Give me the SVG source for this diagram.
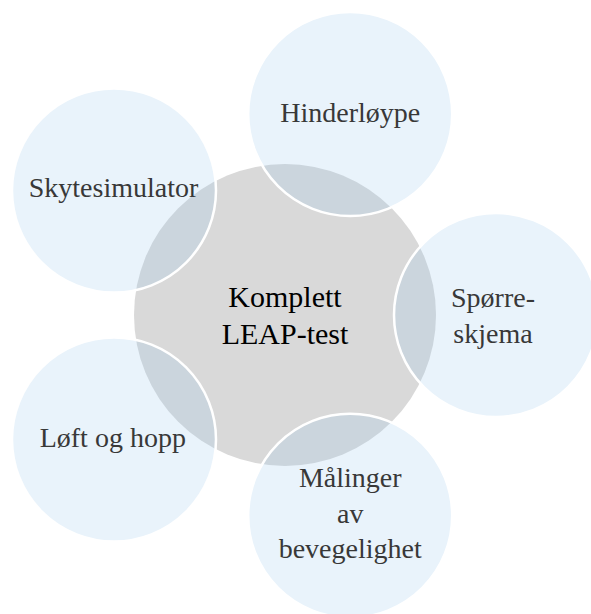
<svg xmlns="http://www.w3.org/2000/svg" width="591" height="614" viewBox="0 0 591 614">
<style>
.hub{fill:#D9D9D9;}
.sat{fill:#9DC8EC;fill-opacity:0.22;stroke:#FFFFFF;stroke-width:2.5;}
.t{font-family:"Liberation Serif",Tinos,"Nimbus Roman","Nimbus Roman No9 L","Times New Roman",FreeSerif,"DejaVu Serif",serif;font-size:28px;fill:#383838;text-anchor:middle;}
.c{font-family:"Liberation Serif",Tinos,"Nimbus Roman","Nimbus Roman No9 L","Times New Roman",FreeSerif,"DejaVu Serif",serif;font-size:30px;fill:#000000;text-anchor:middle;}
</style>
<rect width="591" height="614" fill="#FFFFFF"/>
<g id="connectors"></g>
<g id="hub">
<circle class="hub" cx="285" cy="315" r="151"/>
<text class="c" x="285" y="306.5">Komplett</text>
<text class="c" x="285" y="344">LEAP-test</text>
</g>
<g id="node-hinderloype">
<circle class="sat" cx="350.2" cy="114" r="102"/>
<text class="t" x="350.3" y="121.5">Hinderløype</text>
</g>
<g id="node-sporreskjema">
<circle class="sat" cx="496" cy="315" r="102"/>
<text class="t" x="493" y="307.3">Spørre-</text>
<text class="t" x="493" y="343.3">skjema</text>
</g>
<g id="node-malinger">
<circle class="sat" cx="350.2" cy="515.7" r="102"/>
<text class="t" x="350.2" y="487">Målinger</text>
<text class="t" x="350.2" y="522.5">av</text>
<text class="t" x="350.2" y="558">bevegelighet</text>
</g>
<g id="node-loft">
<circle class="sat" cx="114" cy="439.5" r="102"/>
<text class="t" x="112.8" y="446.7">Løft og hopp</text>
</g>
<g id="node-skyte">
<circle class="sat" cx="114" cy="190.5" r="102"/>
<text class="t" x="113.5" y="196.7">Skytesimulator</text>
</g>
</svg>
